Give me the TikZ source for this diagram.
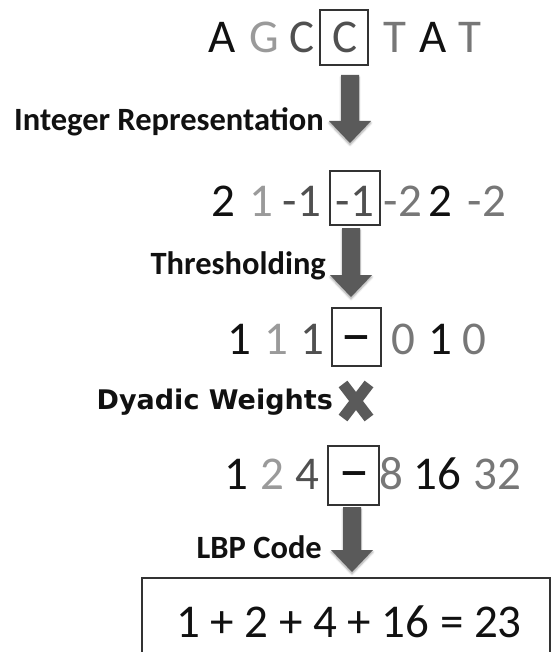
\documentclass[tikz,border=0pt]{standalone}
\usepackage{fontspec}
\setmainfont{Carlito}
\newfontfamily\dejavu{DejaVu Sans}
\usetikzlibrary{shadows.blur}
\definecolor{ink}{HTML}{111111}
\definecolor{pale}{HTML}{9A9A9A}
\definecolor{mid}{HTML}{505050}
\definecolor{soft}{HTML}{777777}
\definecolor{arrowgray}{HTML}{5A5A5A}
\definecolor{frame}{HTML}{333333}
\tikzset{
  tok/.style={anchor=base, inner sep=0pt, font=\fontsize{47}{52}\selectfont},
  gap/.style={tok, text=ink, font=\fontsize{60}{64}\selectfont},
  lbl/.style={anchor=base east, inner sep=0pt, text=ink,
    font=\fontsize{32.5}{36}\selectfont\bfseries},
  cellbox/.style={draw=frame, line width=1.5pt},
  blockarrow/.style={fill=arrowgray, draw=none,
    blur shadow={shadow xshift=0pt, shadow yshift=-2pt,
      shadow blur steps=6, shadow opacity=35}},
  crossbar/.style={draw=arrowgray, line width=11pt},
}
% thick downward block arrow: centre x, top y, tip y
\newcommand\blockdown[3]{%
  \fill[blockarrow] (#1-9,#2) -- (#1+9,#2) -- (#1+9,#3-22) -- (#1+21,#3-22)
    -- (#1,#3) -- (#1-21,#3-22) -- (#1-9,#3-22) -- cycle;}
\begin{document}
\begin{tikzpicture}[x=1pt,y=-1pt]
  \useasboundingbox (0,0) rectangle (553,652);
  \clip (0,0) rectangle (553,652);

  % DNA sequence
  \node[tok, text=ink]  (s1) at (222,53) {A};
  \node[tok, text=pale] (s2) at (264,53) {G};
  \node[tok, text=mid]  (s3) at (302,53) {C};
  \node[tok, text=mid]  (s4) at (345,53) {C};
  \node[tok, text=soft] (s5) at (395,53) {T};
  \node[tok, text=ink]  (s6) at (433,53) {A};
  \node[tok, text=soft] (s7) at (470,53) {T};
  \draw[cellbox] (320,10) rectangle (368,65);

  \blockdown{350}{75}{143}
  \node[lbl] (l1) at (324,131) {Integer Representation};

  % integer values
  \node[tok, text=ink]  (i1) at (223,216) {2};
  \node[tok, text=pale] (i2) at (261,216) {1};
  \node[tok, text=mid]  (i3) at (302,216) {-1};
  \node[tok, text=mid]  (i4) at (355,216) {-1};
  \node[tok, text=soft] (i5) at (403,216) {-2};
  \node[tok, text=ink]  (i6) at (440,216) {2};
  \node[tok, text=soft] (i7) at (487,216) {-2};
  \draw[cellbox] (330,171) rectangle (380,225);

  \blockdown{351}{228}{297}
  \node[lbl] (l2) at (326,274) {Thresholding};

  % thresholded bits
  \node[tok, text=ink]  (b1) at (239,354) {1};
  \node[tok, text=pale] (b2) at (276,354) {1};
  \node[tok, text=mid]  (b3) at (312,354) {1};
  \node[gap]            (b4) at (356,356) {−};
  \node[tok, text=soft] (b5) at (403,354) {0};
  \node[tok, text=ink]  (b6) at (440,354) {1};
  \node[tok, text=soft] (b7) at (474,354) {0};
  \draw[cellbox] (332,308) rectangle (381,366);

  % multiplication mark
  \draw[crossbar] (343,384) -- (369,418);
  \draw[crossbar] (369,384) -- (343,418);
  \node[lbl, font=\dejavu\fontsize{27}{32}\selectfont\bfseries] (l3) at (333,409) {Dyadic Weights};

  % dyadic weights
  \node[tok, text=ink]  (w1) at (236,489) {1};
  \node[tok, text=pale] (w2) at (272,489) {2};
  \node[tok, text=mid]  (w3) at (307,489) {4};
  \node[gap]            (w4) at (354,492) {−};
  \node[tok, text=soft] (w5) at (391,489) {8};
  \node[tok, text=ink]  (w6) at (437,489) {16};
  \node[tok, text=soft] (w7) at (497,489) {32};
  \draw[cellbox] (328,446) rectangle (379,505);

  \blockdown{352}{507}{572}
  \node[lbl] (l4) at (322,558) {LBP Code};

  % resulting code
  \draw[draw=frame, line width=1.5pt] (142,690) -- (142,578) -- (550,578) -- (550,690);
  \node[tok, text=ink] (res) at (349,637) {1 + 2 + 4 + 16 = 23};
\end{tikzpicture}
\end{document}
